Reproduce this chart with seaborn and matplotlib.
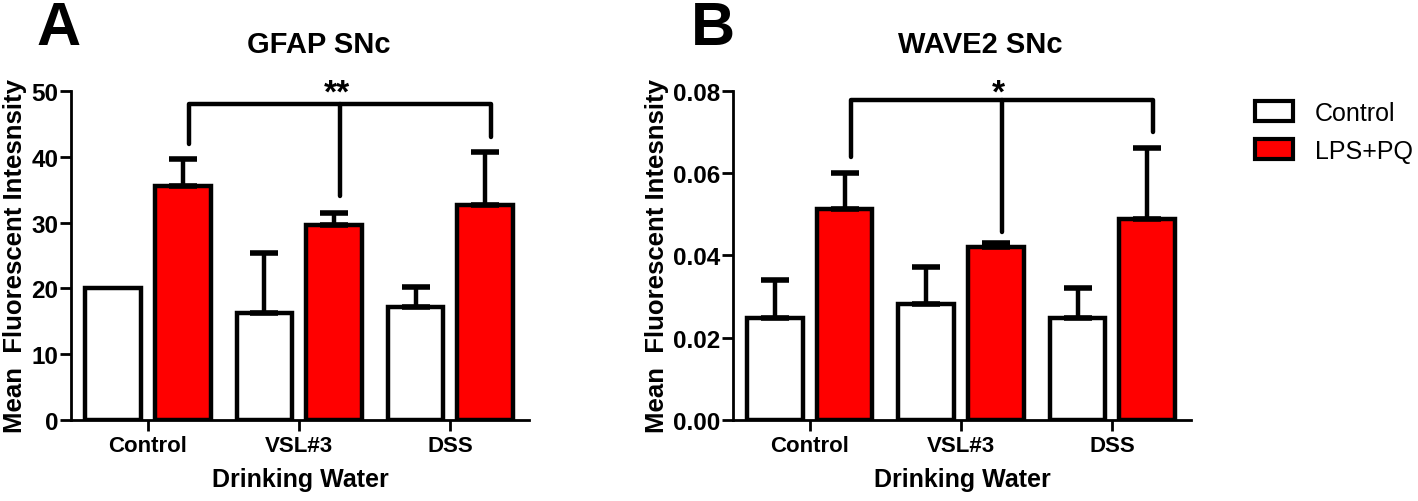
import numpy as np
import pandas as pd
import matplotlib
matplotlib.use("Agg")
import matplotlib.pyplot as plt
import matplotlib.patches as mpatches
import seaborn as sns

# data
groups = ["Control", "VSL#3", "DSS"]
treatments = ["Control", "LPS+PQ"]
colors = ["white", "#ff0000"]

gfap_ctrl = [20.0, 16.3, 17.1]
gfap_lps = [35.5, 29.6, 32.6]
gfap_ctrl_err = [0.0, 9.0, 3.1]
gfap_lps_err = [4.2, 1.9, 8.2]

wave_ctrl = [0.0249, 0.0282, 0.0249]
wave_lps = [0.0512, 0.0421, 0.0489]
wave_ctrl_err = [0.0091, 0.0089, 0.0071]
wave_lps_err = [0.0089, 0.0009, 0.0172]

# significance brackets: (bracket level, left leg end, middle leg end, right leg end)
gfap_bracket = [48.0, 42.0, 34.1, 43.0]
wave_bracket = [0.0779, 0.0639, 0.0456, 0.0700]

sns.set_style("ticks")
plt.rcParams["font.family"] = ["Liberation Sans", "DejaVu Sans"]
plt.rcParams["font.weight"] = "bold"
for k in ["text.color", "axes.labelcolor", "xtick.color", "ytick.color", "axes.edgecolor"]:
    plt.rcParams[k] = "black"

fig = plt.figure(figsize=(14.18, 5.02), dpi=100)
axA = fig.add_axes([0.0501, 0.1614, 0.323, 0.6554])
axB = fig.add_axes([0.5169, 0.1614, 0.323, 0.6554])


def panel(ax, ctrl, lps, ctrl_err, lps_err, bracket, stars, ymax, yticks, fmt, title):
    df = pd.DataFrame({
        "water": groups * 2,
        "treat": [treatments[0]] * 3 + [treatments[1]] * 3,
        "value": list(ctrl) + list(lps),
    })
    sns.barplot(data=df, x="water", y="value", hue="treat", order=groups,
                hue_order=treatments, palette=colors, saturation=1,
                edgecolor="black", linewidth=3.2, width=0.92, gap=0.2,
                errorbar=None, legend=False, ax=ax)

    # error bars (upward only) at the bar centres
    bars = ax.patches[:6]
    xs = [b.get_x() + b.get_width() / 2 for b in bars]
    ys = [b.get_height() for b in bars]
    errs = list(ctrl_err) + list(lps_err)
    for x, y, e in zip(xs, ys, errs):
        if e > 0:
            ax.errorbar(x, y, yerr=[[0], [e]], fmt="none", ecolor="black",
                        elinewidth=3.2, capsize=10, capthick=4, zorder=1)

    # significance bracket over the LPS+PQ bars
    top, l_end, m_end, r_end = bracket
    xl, xm, xr = xs[3] + 0.04, xs[4] + 0.04, xs[5] + 0.04
    kw = dict(color="black", lw=3.2, clip_on=False, solid_capstyle="round")
    ax.plot([xl, xl, xr, xr], [l_end, top, top, r_end], **kw)
    ax.plot([xm, xm], [top, m_end], **kw)
    ax.text((xl + xr) / 2 - 0.02, ymax * 0.995, stars, ha="center", va="center",
            fontsize=24, fontweight="bold", clip_on=False)

    ax.set_xlim(-0.508, 2.52)
    ax.set_ylim(0, ymax)
    ax.set_yticks(yticks)
    ax.set_yticklabels([fmt.format(t) for t in yticks])
    sns.despine(ax=ax)
    for s in ["left", "bottom"]:
        ax.spines[s].set_linewidth(2)
    ax.tick_params(axis="both", width=2, length=8, labelsize=16)
    ax.tick_params(axis="y", pad=1, labelsize=17.5)
    ax.tick_params(axis="x", pad=3)
    for lab in ax.get_xticklabels() + ax.get_yticklabels():
        lab.set_fontweight("bold")
    ax.set_xlabel("Drinking Water", fontsize=18, fontweight="bold", labelpad=8)
    ax.set_ylabel("Mean  Fluorescent Intesnsity", fontsize=18.5,
                  fontweight="bold", labelpad=3)
    ax.set_title(title, fontsize=21, fontweight="bold", pad=28, x=0.54)


panel(axA, gfap_ctrl, gfap_lps, gfap_ctrl_err, gfap_lps_err, gfap_bracket,
      "**", 50, [0, 10, 20, 30, 40, 50], "{:.0f}", "GFAP SNc")
panel(axB, wave_ctrl, wave_lps, wave_ctrl_err, wave_lps_err, wave_bracket,
      "*", 0.08, [0.0, 0.02, 0.04, 0.06, 0.08], "{:.2f}", "WAVE2 SNc")

fig.text(0.041, 0.998, "A", fontsize=44, fontweight="bold", ha="center", va="top")
fig.text(0.503, 0.998, "B", fontsize=44, fontweight="bold", ha="center", va="top")

handles = [mpatches.Patch(facecolor=c, edgecolor="black", linewidth=3,
                          joinstyle="round") for c in colors]
axB.legend(handles, treatments, loc="upper left", bbox_to_anchor=(1.14, 0.97),
           frameon=False, prop={"weight": "normal", "size": 18},
           handlelength=1.5, handleheight=0.85, handletextpad=0.9,
           labelspacing=0.55, borderpad=0, borderaxespad=0)

fig.savefig("out.png", dpi=100)
